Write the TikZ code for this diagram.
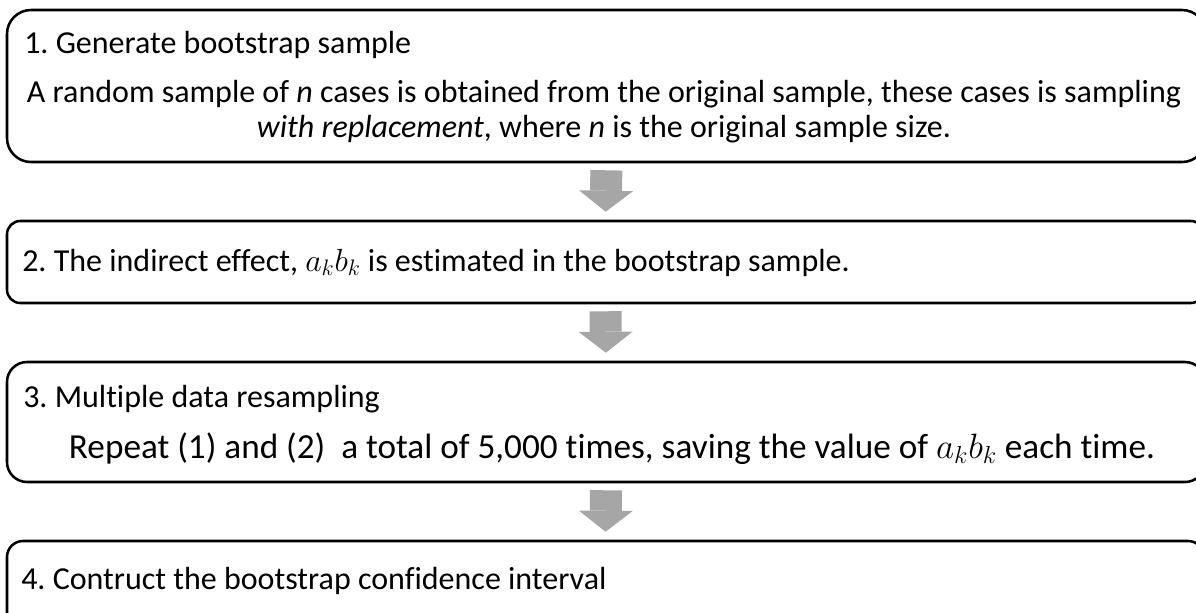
\RequirePackage{fix-cm}
\documentclass[tikz,border=0pt]{standalone}
\usepackage{fontspec}
\setmainfont{Carlito}[Ligatures=NoCommon]
\usetikzlibrary{fit,arrows.meta}
\definecolor{arrowgray}{HTML}{A6A6A6}
\frenchspacing
\begin{document}
\begin{tikzpicture}[x=0.75pt,y=-0.75pt,
  box/.style={draw=black, line width=1.9pt, inner sep=0pt},
  txt/.style={inner sep=0pt, font=\fontsize{24}{29}\selectfont},
  bigtxt/.style={inner sep=0pt, font=\fontsize{26.4}{32}\selectfont},
  flow/.style={draw=arrowgray, line width=24pt,
    -{Triangle[length=15.75pt,width=40.5pt,line width=0pt]},
    shorten <=5.25pt, shorten >=6pt}]
\useasboundingbox (0,0) rectangle (1196,612);
\clip (0,0) rectangle (1196,612);
\node[box, rounded corners=18pt, fit={(7,10) (1206,162)}] (b1) {};
\node[box, rounded corners=10pt, fit={(7,221) (1204,303)}] (b2) {};
\node[box, rounded corners=15pt, fit={(7,362) (1205,482)}] (b3) {};
\node[box, rounded corners=12pt, fit={(7,541) (1204,680)}] (b4) {};
\node[txt, anchor=base west] (t1a) at (24,53) {1. Generate bootstrap sample};
\node[txt, anchor=base] (t1b) at (604,102) {A random sample of \textit{n} cases is obtained from the original sample, these cases is sampling};
\node[txt, anchor=base] (t1c) at (604,137) {\textit{with replacement}, where \textit{n} is the original sample size.};
\node[txt, anchor=base west] (t2) at (22,271) {2. The indirect effect, $a_k b_k$ is estimated in the bootstrap sample.};
\node[txt, anchor=base west] (t3a) at (23,407) {3. Multiple data resampling};
\node[bigtxt, anchor=base] (t3b) at (612,458) {Repeat (1) and (2)\ \ a total of 5,000 times, saving the value of $a_k b_k$ each time.};
\node[txt, anchor=base west] (t4) at (21,589) {4. Contruct the bootstrap confidence interval};
\draw[flow] (b1.south) -- (b2.north);
\draw[flow] (b2.south) -- (b3.north);
\draw[flow] (b3.south) -- (b4.north);
\end{tikzpicture}
\end{document}
